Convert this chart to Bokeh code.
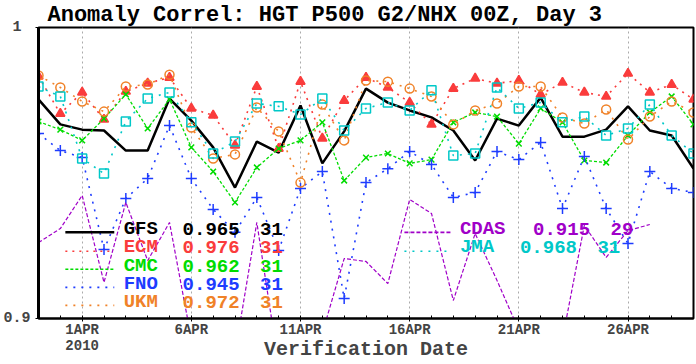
import math
import pandas as pd
from bokeh.plotting import figure
from bokeh.models import Range1d, FixedTicker, Label
from bokeh.embed import file_html
from bokeh.resources import INLINE

# ---------------- data ----------------
dates = pd.date_range("2010-03-30", "2010-04-29", freq="D")
days = [int((d - dates[0]).days) for d in dates]

tick_days = [2, 7, 12, 17, 22, 27]
tick_labels = ["1APR\n2010", "6APR", "11APR", "16APR", "21APR", "26APR"]

gfs = [0.9753, 0.9667, 0.9649, 0.9646, 0.9577, 0.9577, 0.9756, 0.9680, 0.9588, 0.9450,
       0.9608, 0.9570, 0.9732, 0.9533, 0.9643, 0.9790, 0.9742, 0.9715, 0.9691, 0.9646,
       0.9543, 0.9687, 0.9663, 0.9759, 0.9625, 0.9625, 0.9649, 0.9729, 0.9646, 0.9629, 0.9515]
ecm = [0.9832, 0.9704, 0.9777, 0.9684, 0.9780, 0.9808, 0.9828, 0.9722, 0.9698, 0.9595,
       0.9797, 0.9584, 0.9814, 0.9619, 0.9749, 0.9828, 0.9794, 0.9742, 0.9667, 0.9790,
       0.9825, 0.9808, 0.9818, 0.9770, 0.9811, 0.9777, 0.9763, 0.9842, 0.9777, 0.9804, 0.9753]
cmc = [0.9677, 0.9649, 0.9612, 0.9687, 0.9770, 0.9653, 0.9753, 0.9588, 0.9505, 0.9399,
       0.9519, 0.9584, 0.9612, 0.9674, 0.9474, 0.9553, 0.9567, 0.9533, 0.9546, 0.9674,
       0.9708, 0.9694, 0.9601, 0.9722, 0.9674, 0.9543, 0.9536, 0.9629, 0.9708, 0.9763, 0.9667]
fno = [0.9636, 0.9577, 0.9553, 0.9237, 0.9412, 0.9481, 0.9663, 0.9481, 0.9375, 0.9296,
       0.9416, 0.9234, 0.9447, 0.9505, 0.9069, 0.9467, 0.9515, 0.9574, 0.9529, 0.9416,
       0.9433, 0.9574, 0.9546, 0.9605, 0.9378, 0.9557, 0.9378, 0.9258, 0.9505, 0.9447, 0.9433]
ukm = [0.9835, 0.9794, 0.9746, 0.9711, 0.9797, 0.9804, 0.9838, 0.9656, 0.9550, 0.9564,
       0.9725, 0.9643, 0.9467, 0.9735, 0.9612, 0.9818, 0.9814, 0.9790, 0.9763, 0.9667,
       0.9715, 0.9739, 0.9797, 0.9797, 0.9691, 0.9670, 0.9718, 0.9615, 0.9694, 0.9746, 0.9708]
cdas = [0.9261, 0.9309, 0.9423, 0.9124, 0.9399, 0.9199, 0.9330, 0.893, 0.885, 0.888,
        0.9330, 0.884, 0.875, 0.895, 0.9206, 0.9196, 0.9120, 0.9409, 0.9361, 0.9062,
        0.9292, 0.9131, 0.896, 0.885, 0.893, 0.9320, 0.9210, 0.9302, 0.9323, math.nan, math.nan]
jma = [0.9797, 0.9763, 0.9550, 0.9498, 0.9677, 0.9756, 0.9777, 0.9674, 0.9567, 0.9608,
       0.9739, 0.9729, 0.9701, 0.9756, 0.9646, 0.9722, 0.9742, 0.9715, 0.9784, 0.9560,
       0.9567, 0.9794, 0.9722, 0.9742, 0.9674, 0.9694, 0.9629, 0.9653, 0.9735, 0.9629, 0.9567]

legend_names = ["GFS", "ECM", "CMC", "FNO", "UKM", "CDAS", "JMA"]
legend_means = ["0.965", "0.976", "0.962", "0.945", "0.972", "0.915", "0.968"]
legend_counts = ["31", "31", "31", "31", "31", "29", "31"]

title_text = "Anomaly Correl: HGT P500 G2/NHX 00Z, Day 3"
xlabel_text = "Verification Date"

# ---------------- styles ----------------
FONT = "Liberation Mono"
COLORS = {"GFS": "black", "ECM": "#fa3c3c", "CMC": "#00dc00", "FNO": "#1e3cff",
          "UKM": "#f08228", "CDAS": "#a000c8", "JMA": "#00c8c8"}
DASH = {"GFS": "solid", "ECM": "2 5", "CMC": "3 2", "FNO": "2 6",
        "UKM": "2 6", "CDAS": "4 2", "JMA": "2 6"}
WIDTH = {"GFS": 2.5, "ECM": 1.6, "CMC": 1.3, "FNO": 1.6, "UKM": 1.6, "CDAS": 1.2, "JMA": 1.6}
MARKER = {"ECM": ("triangle", 9, True), "CMC": ("x", 8, False), "FNO": ("cross", 11, False),
          "UKM": ("circle", 9, False), "JMA": ("square", 9, False)}
SERIES = {"GFS": gfs, "ECM": ecm, "CMC": cmc, "FNO": fno, "UKM": ukm, "CDAS": cdas, "JMA": jma}

p = figure(width=696, height=364, x_range=Range1d(0, 30), y_range=Range1d(0.9, 1.0),
           output_backend="svg", toolbar_location=None,
           min_border_left=36, min_border_right=3, min_border_top=27, min_border_bottom=46)
p.background_fill_color = "white"
p.border_fill_color = "white"
p.outline_line_color = "black"
p.outline_line_width = 2
p.ygrid.visible = False
p.xgrid.ticker = FixedTicker(ticks=tick_days)
p.xgrid.grid_line_color = "#aaaaaa"
p.xgrid.grid_line_dash = "2 3"

p.title.text = title_text
p.title.align = "left"
p.title.offset = 9
p.title.standoff = 0
p.title.text_font = FONT
p.title.text_font_style = "bold"
p.title.text_font_size = "22px"
p.title.text_color = "black"

xa = p.xaxis[0]
xa.ticker = FixedTicker(ticks=tick_days, minor_ticks=days)
xa.major_label_overrides = {d: lab for d, lab in zip(tick_days, tick_labels)}
xa.major_label_text_font = FONT
xa.major_label_text_font_style = "bold"
xa.major_label_text_font_size = "14px"
xa.major_label_text_line_height = 1.05
xa.major_label_standoff = 0
xa.major_tick_in = 0
xa.major_tick_out = 3
xa.minor_tick_in = 3
xa.minor_tick_out = 0
xa.axis_line_width = 2
xa.axis_label = xlabel_text
xa.axis_label_text_font = FONT
xa.axis_label_text_font_style = "bold"
xa.axis_label_text_font_size = "20px"
xa.axis_label_standoff = -19

ya = p.yaxis[0]
ya.ticker = FixedTicker(ticks=[0.9, 1.0], minor_ticks=[])
ya.major_label_overrides = {0.9: "0.9", 1.0: "1\u00a0"}
ya.major_label_text_font = FONT
ya.major_label_text_font_style = "bold"
ya.major_label_text_font_size = "15px"
ya.major_label_standoff = 5
ya.major_tick_in = 0
ya.major_tick_out = 3
ya.axis_line_width = 3

for name in ["GFS", "ECM", "CMC", "FNO", "UKM", "CDAS", "JMA"]:
    vals = SERIES[name]
    col = COLORS[name]
    p.line(days, vals, line_color=col, line_width=WIDTH[name], line_dash=DASH[name])
    if name in MARKER:
        mk, sz, filled = MARKER[name]
        p.scatter(days, vals, marker=mk, size=sz, line_color=col, line_width=1.5,
                  fill_color=col if filled else None)

# ---------------- legend (layout) ----------------
row_y_left = [0.9309, 0.9244, 0.9182, 0.9120, 0.9058]
row_y_right = [0.9309, 0.9244]
LEG_SIZE = "19px"
SAMPLE_DROP = 0.0013

def legend_row(name, mean, count, y, xs0, xs1, xname, xmean, xcount):
    col = COLORS[name]
    p.line([xs0, xs1], [y - SAMPLE_DROP, y - SAMPLE_DROP], line_color=col,
           line_width=WIDTH[name] if name == "GFS" else 1.6, line_dash=DASH[name])
    for txt, xx in ((name, xname), (mean, xmean), (count, xcount)):
        p.add_layout(Label(x=xx, y=y, text=txt, text_font=FONT, text_font_style="bold",
                           text_font_size=LEG_SIZE, text_color=col,
                           text_align="left", text_baseline="middle"))

for i in range(5):
    legend_row(legend_names[i], legend_means[i], legend_counts[i], row_y_left[i],
               1.23, 3.47, 3.9, 6.6, 10.15)
legend_row(legend_names[5], legend_means[5], legend_counts[5], row_y_right[0],
           16.76, 18.9, 19.3, 22.65, 26.2)
legend_row(legend_names[6], legend_means[6], legend_counts[6], row_y_right[1],
           16.76, 18.9, 19.3, 22.05, 25.6)

open("out.html", "w").write(file_html(p, INLINE))
